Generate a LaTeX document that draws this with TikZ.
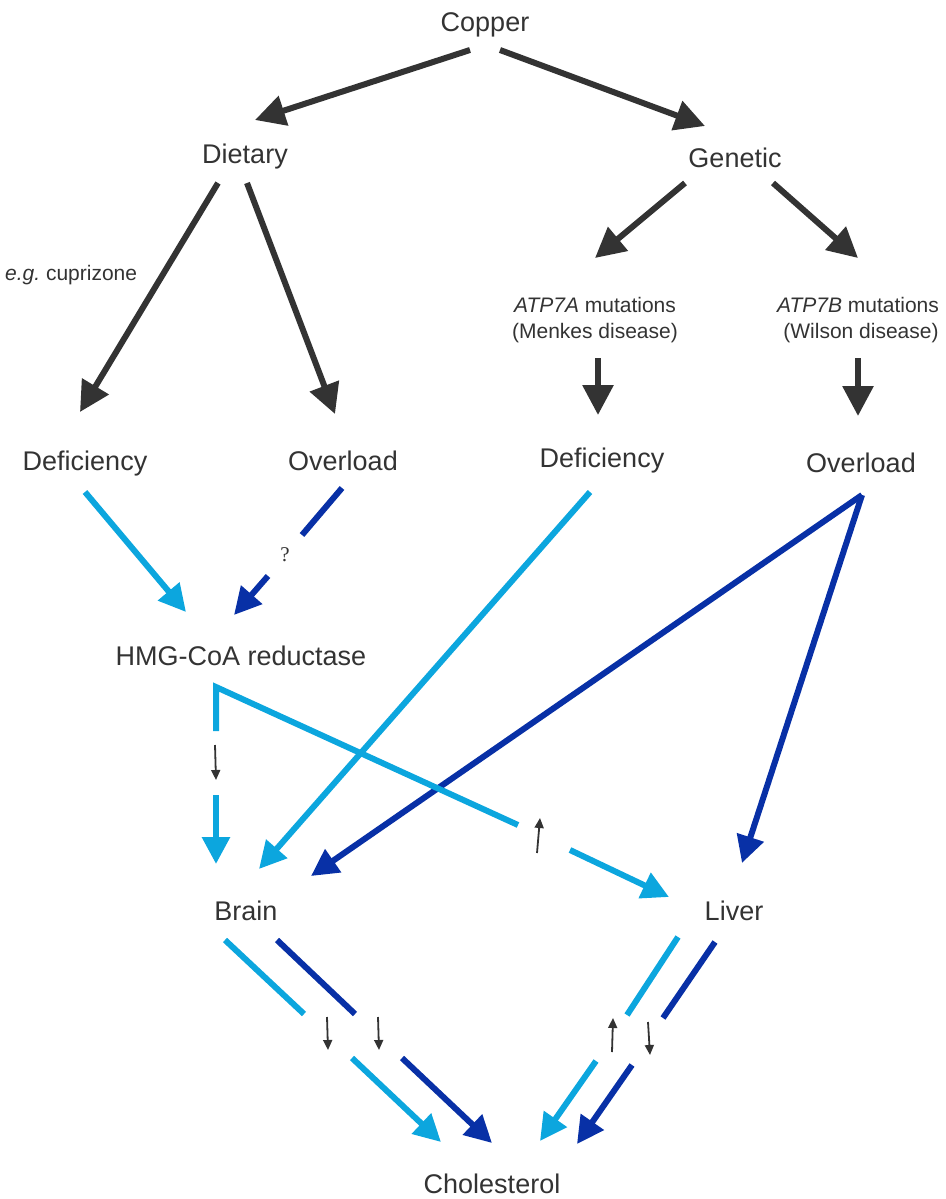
\documentclass[tikz,border=0pt]{standalone}
\usepackage{fontspec}
\setmainfont{Liberation Sans}
\newfontfamily\qfont{Liberation Serif}
\usetikzlibrary{arrows.meta}
\definecolor{dk}{RGB}{51,51,51}
\definecolor{lb}{RGB}{12,166,222}
\definecolor{db}{RGB}{8,48,166}
\begin{document}
\begin{tikzpicture}[x=1pt,y=-1pt,
  lbl/.style={inner sep=0pt, anchor=base, text=dk, font=\fontsize{27}{32}\selectfont},
  sml/.style={inner sep=0pt, anchor=base, text=dk, font=\fontsize{21}{25}\selectfont},
  darr/.style={draw=dk, line width=6pt, -{Triangle[length=30pt,width=30pt]}},
  larr/.style={draw=lb, line width=6pt, -{Triangle[length=27pt,width=27pt]}},
  barr/.style={draw=db, line width=6pt, -{Triangle[length=27pt,width=27pt]}},
  lseg/.style={draw=lb, line width=6pt},
  bseg/.style={draw=db, line width=6pt},
  tiny/.style={draw=dk, line width=1.8pt, -{Triangle[length=10pt,width=9pt]}}]
\useasboundingbox (0,0) rectangle (945,1199);
% text nodes
\node[lbl] (copper) at (485,32) {Copper};
\node[lbl] (dietary) at (245,163) {Dietary};
\node[lbl] (genetic) at (735,167) {Genetic};
\node[sml, anchor=base west] (eg) at (5,280) {\textit{e.g.}\ cuprizone};
\node[sml] (atpa) at (595,312) {\textit{ATP7A} mutations};
\node[sml] (menkes) at (595,338) {(Menkes disease)};
\node[sml] (atpb) at (858,312) {\textit{ATP7B} mutations};
\node[sml] (wilson) at (861,338) {(Wilson disease)};
\node[lbl] (defl) at (85,470) {Deficiency};
\node[lbl] (overl) at (343,470) {Overload};
\node[lbl] (defr) at (602,467) {Deficiency};
\node[lbl] (overr) at (861,472) {Overload};
\node[lbl] (hmg) at (241,665) {HMG-CoA reductase};
\node[lbl] (brain) at (246,920) {Brain};
\node[lbl] (liver) at (734,920) {Liver};
\node[lbl] (chol) at (492,1193) {Cholesterol};
\node[inner sep=0pt, text=dk, font=\qfont\fontsize{21}{24}\selectfont] (q) at (285,555) {?};
% coordinates
\coordinate (c1) at (470,50);  \coordinate (d1) at (255,120);
\coordinate (c2) at (500,50);  \coordinate (g1) at (705,126);
\coordinate (d2) at (218,183); \coordinate (dl1) at (80,412);
\coordinate (d3) at (247,183); \coordinate (ol1) at (335,414);
\coordinate (g2) at (685,183); \coordinate (a1) at (595,258);
\coordinate (g3) at (773,183); \coordinate (b1) at (858,258);
\coordinate (a2) at (598,358); \coordinate (dr1) at (598,415);
\coordinate (b2) at (858,358); \coordinate (or1) at (858,416);
% dark arrows
\draw[darr] (c1) -- (d1);
\draw[darr] (c2) -- (g1);
\draw[darr] (d2) -- (dl1);
\draw[darr] (d3) -- (ol1);
\draw[darr] (g2) -- (a1);
\draw[darr] (g3) -- (b1);
\draw[darr] (a2) -- (dr1);
\draw[darr] (b2) -- (or1);
% to HMG
\coordinate (dl2) at (85,492);  \coordinate (h1) at (186,612);
\draw[larr] (dl2) -- (h1);
\coordinate (ol2) at (342,488); \coordinate (ol3) at (302,535);
\coordinate (ol4) at (268,576); \coordinate (h2) at (234,615);
\draw[bseg] (ol2) -- (ol3);
\draw[barr] (ol4) -- (h2);
% long arrows to brain / liver
\coordinate (dr2) at (590,492); \coordinate (br1) at (259,869);
\draw[larr] (dr2) -- (br1);
\coordinate (or2) at (862,495); \coordinate (br2) at (311,876);
\coordinate (lv1) at (742,863);
\draw[barr] (or2) -- (br2);
\draw[barr] (or2) -- (lv1);
% HMG -> brain / liver
\coordinate (h3) at (216,731); \coordinate (h4) at (216,687);
\coordinate (hb) at (216,795); \coordinate (br3) at (216,864);
\coordinate (hl1) at (518,825); \coordinate (hl2) at (570,850);
\coordinate (lv2) at (669,897);
\draw[lseg] (h3) -- (h4) -- (hl1);
\draw[larr] (hb) -- (br3);
\draw[larr] (hl2) -- (lv2);
\coordinate (s1a) at (215,745); \coordinate (s1b) at (216,780);
\draw[tiny] (s1a) -- (s1b);
\coordinate (s2a) at (537,853); \coordinate (s2b) at (540,818);
\draw[tiny] (s2a) -- (s2b);
% brain -> cholesterol
\coordinate (bl1) at (225,940); \coordinate (bl2) at (304,1014);
\coordinate (bl3) at (352,1058); \coordinate (ch1) at (441,1142);
\draw[lseg] (bl1) -- (bl2);
\draw[larr] (bl3) -- (ch1);
\coordinate (bd1) at (277,940); \coordinate (bd2) at (355,1014);
\coordinate (bd3) at (402,1058); \coordinate (ch2) at (492,1143);
\draw[bseg] (bd1) -- (bd2);
\draw[barr] (bd3) -- (ch2);
\coordinate (s3a) at (327,1017); \coordinate (s3b) at (328,1050);
\draw[tiny] (s3a) -- (s3b);
\coordinate (s4a) at (378,1017); \coordinate (s4b) at (379,1050);
\draw[tiny] (s4a) -- (s4b);
% liver -> cholesterol
\coordinate (ll1) at (678,937); \coordinate (ll2) at (627,1015);
\coordinate (ll3) at (596,1061); \coordinate (ch3) at (540,1141);
\draw[lseg] (ll1) -- (ll2);
\draw[larr] (ll3) -- (ch3);
\coordinate (ld1) at (715,942); \coordinate (ld2) at (663,1018);
\coordinate (ld3) at (632,1065); \coordinate (ch4) at (577,1144);
\draw[bseg] (ld1) -- (ld2);
\draw[barr] (ld3) -- (ch4);
\coordinate (s5a) at (612,1052); \coordinate (s5b) at (613,1018);
\draw[tiny] (s5a) -- (s5b);
\coordinate (s6a) at (648,1022); \coordinate (s6b) at (650,1055);
\draw[tiny] (s6a) -- (s6b);
\end{tikzpicture}
\end{document}
